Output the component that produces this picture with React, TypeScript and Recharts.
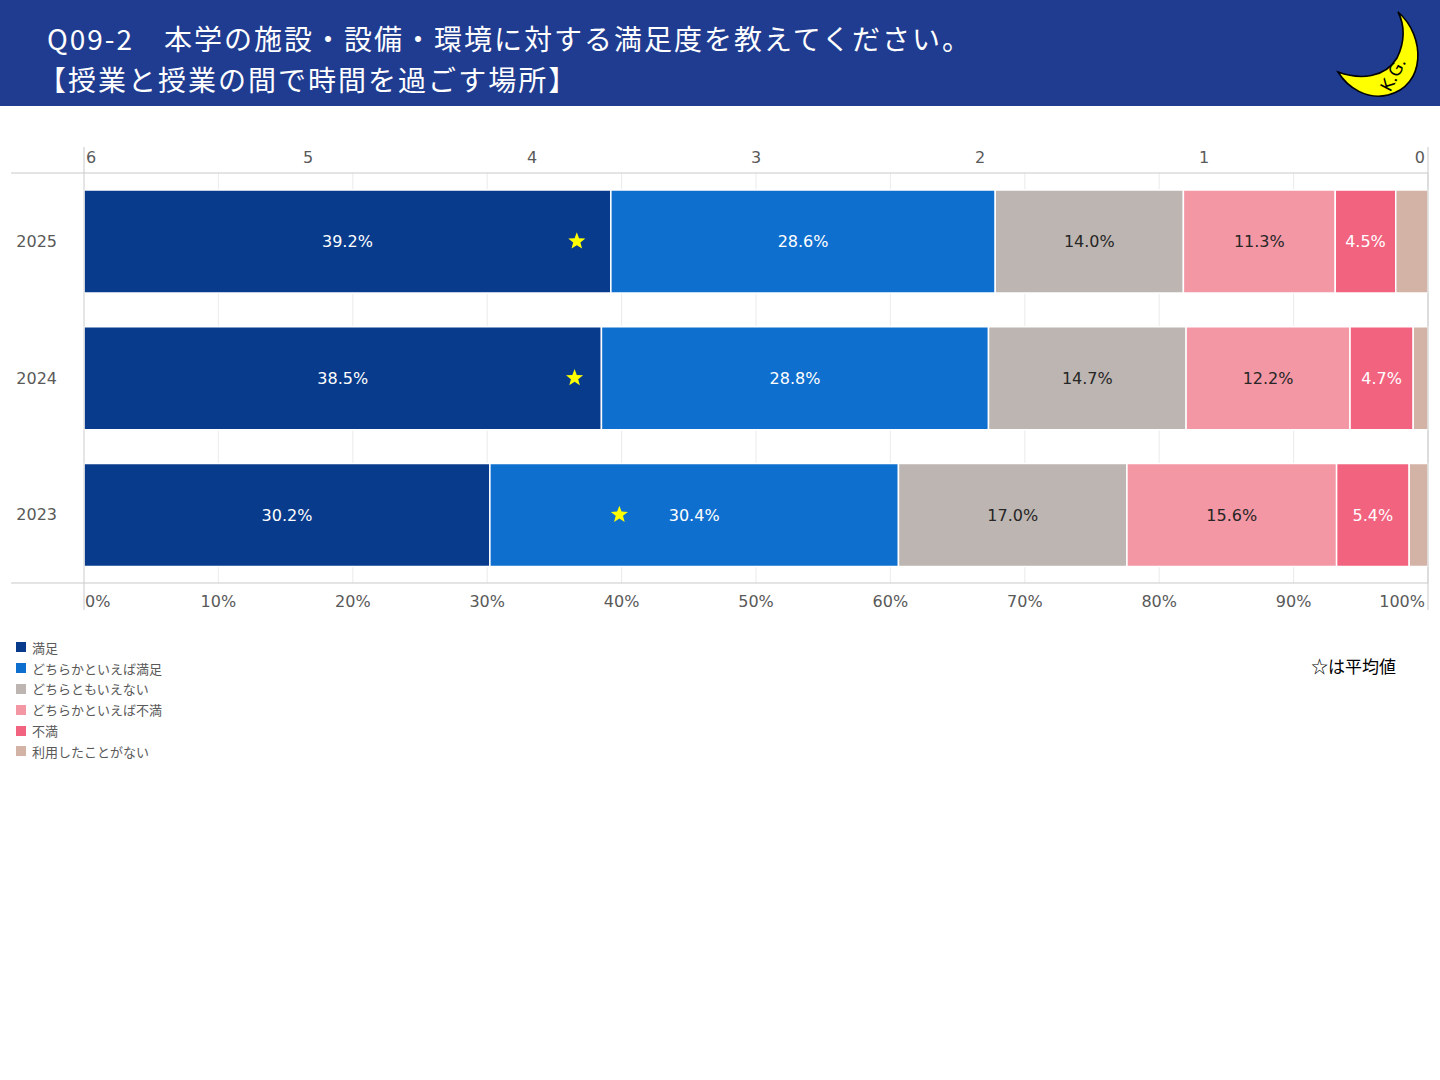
import React from 'react';
import { ComposedChart, Bar, XAxis, YAxis, CartesianGrid, LabelList, Scatter, ReferenceLine } from 'recharts';

const years = ['2025', '2024', '2023'];
const satisfied = [39.2, 38.5, 30.2];
const ratherSatisfied = [28.6, 28.8, 30.4];
const neutral = [14.0, 14.7, 17.0];
const ratherDissatisfied = [11.3, 12.2, 15.6];
const dissatisfied = [4.5, 4.7, 5.4];
const neverUsed = [2.4, 1.1, 1.4];
const averages = [3.8, 3.81, 3.61];

const pctTicks = [0, 10, 20, 30, 40, 50, 60, 70, 80, 90, 100];
const avgTicks = [0, 1, 2, 3, 4, 5, 6];

const seriesNames = ['満足', 'どちらかといえば満足', 'どちらともいえない', 'どちらかといえば不満', '不満', '利用したことがない'];
const seriesColors = ['#083b8c', '#0f6fce', '#bdb5b1', '#f397a5', '#f2637f', '#d4b3a7'];
const labelColors = ['#ffffff', '#ffffff', '#262626', '#262626', '#ffffff', null];
const seriesKeys = ['s0', 's1', 's2', 's3', 's4', 's5'];

const data = years.map((year, i) => ({
  year,
  s0: satisfied[i],
  s1: ratherSatisfied[i],
  s2: neutral[i],
  s3: ratherDissatisfied[i],
  s4: dissatisfied[i],
  s5: neverUsed[i],
  avg: averages[i],
}));

const AXIS_GRAY = '#c9c9c9';
const TEXT_GRAY = '#595959';
const NUM_FONT = '"DejaVu Sans", Verdana, sans-serif';
const JP_FONT = '"Noto Sans CJK JP", "Noto Sans", sans-serif';

const TopTick = (props: any) => {
  const { x, y, payload } = props;
  const v = payload.value;
  const lineY = y + 8;
  const anchor = v === 6 ? 'start' : v === 0 ? 'end' : 'middle';
  const dx = v === 6 ? 2 : v === 0 ? -3 : 0;
  return (
    <g>
      {(v === 6 || v === 0) && <line x1={x} x2={x} y1={lineY - 26} y2={lineY} stroke={AXIS_GRAY} />}
      {v === 6 && <line x1={x - 73} x2={x} y1={lineY} y2={lineY} stroke={AXIS_GRAY} />}
      <text x={x + dx} y={y - 2} textAnchor={anchor} fill={TEXT_GRAY} fontSize={16} fontFamily={NUM_FONT}>
        {v}
      </text>
    </g>
  );
};

const BottomTick = (props: any) => {
  const { x, y, payload } = props;
  const v = payload.value;
  const lineY = y - 8;
  const anchor = v === 0 ? 'start' : v === 100 ? 'end' : 'middle';
  const dx = v === 0 ? 1 : v === 100 ? -3 : 0;
  return (
    <g>
      {(v === 0 || v === 100) && <line x1={x} x2={x} y1={lineY} y2={lineY + 27} stroke={AXIS_GRAY} />}
      {v === 0 && <line x1={x - 73} x2={x} y1={lineY} y2={lineY} stroke={AXIS_GRAY} />}
      <text x={x + dx} y={y + 16} textAnchor={anchor} fill={TEXT_GRAY} fontSize={16} fontFamily={NUM_FONT}>
        {v}%
      </text>
    </g>
  );
};

const YTick = (props: any) => {
  const { x, y, payload } = props;
  return (
    <text x={x} y={y} dy="0.35em" textAnchor="end" fill={TEXT_GRAY} fontSize={16} fontFamily={NUM_FONT}>
      {payload.value}
    </text>
  );
};

const Star = (props: any) => {
  const { cx, cy } = props;
  if (cx == null || cy == null) return null;
  const outer = 9;
  const inner = 3.8;
  const pts: string[] = [];
  for (let k = 0; k < 10; k++) {
    const r = k % 2 === 0 ? outer : inner;
    const a = -Math.PI / 2 + (k * Math.PI) / 5;
    pts.push(`${cx + r * Math.cos(a)},${cy + r * Math.sin(a)}`);
  }
  return <polygon points={pts.join(' ')} fill="#ffff00" />;
};

const Moon = () => (
  <svg width={1440} height={106} style={{ position: 'absolute', left: 0, top: 0 }}>
    <path
      d="M1398,12 C1426,36 1426,86 1388,95 C1367,100 1348,88 1338,72 C1360,80 1385,78 1397,58 C1405,42 1405,25 1398,12 Z"
      fill="#ffff00"
      stroke="#000"
      strokeWidth={1.6}
    />
    <text
      x={1394}
      y={80}
      transform="rotate(-62 1394 75)"
      fontSize={17}
      fontFamily='"DejaVu Sans", sans-serif'
      fill="#000"
      textAnchor="middle"
    >
      K.G.
    </text>
  </svg>
);

const titleStyle: React.CSSProperties = {
  position: 'absolute',
  color: '#fff',
  fontSize: 28,
  letterSpacing: 2,
  fontFamily: JP_FONT,
  lineHeight: '41px',
  whiteSpace: 'nowrap',
};

export default function App() {
  return (
    <div style={{ position: 'absolute', left: 0, top: 0, width: 1440, height: 1080, background: '#fff', overflow: 'hidden' }}>
      <div style={{ position: 'absolute', left: 0, top: 0, width: 1440, height: 106, background: '#1f3c91' }}>
        <div style={{ ...titleStyle, left: 47, top: 18 }}>
          Q09-2　本学の施設・設備・環境に対する満足度を教えてください。
        </div>
        <div style={{ ...titleStyle, left: 38, top: 59 }}>
          【授業と授業の間で時間を過ごす場所】
        </div>
        <Moon />
      </div>

      <div style={{ position: 'absolute', left: 0, top: 120 }}>
        <ComposedChart
          layout="vertical"
          width={1440}
          height={520}
          data={data}
          margin={{ top: 13, right: 12, bottom: 27, left: 11 }}
          barCategoryGap="12.5%"
        >
          <CartesianGrid xAxisId="pct" horizontal={false} stroke="#ebebeb" />
          <XAxis
            xAxisId="pct"
            type="number"
            domain={[0, 100]}
            ticks={pctTicks}
            interval={0}
            orientation="bottom"
            height={30}
            tickSize={0}
            tickMargin={8}
            tickLine={false}
            axisLine={{ stroke: AXIS_GRAY }}
            tick={<BottomTick />}
          />
          <XAxis
            xAxisId="avg"
            type="number"
            dataKey="avg"
            domain={[0, 6]}
            ticks={avgTicks}
            interval={0}
            reversed
            orientation="top"
            height={40}
            tickSize={0}
            tickMargin={8}
            tickLine={false}
            axisLine={{ stroke: AXIS_GRAY }}
            tick={<TopTick />}
          />
          <YAxis
            type="category"
            dataKey="year"
            width={73}
            tickSize={0}
            tickMargin={27}
            tickLine={false}
            axisLine={{ stroke: '#d6d6d6' }}
            tick={<YTick />}
          />
          <ReferenceLine xAxisId="pct" x={100} stroke={AXIS_GRAY} />
          {seriesKeys.map((key, i) => (
            <Bar
              key={key}
              xAxisId="pct"
              dataKey={key}
              name={seriesNames[i]}
              stackId="a"
              fill={seriesColors[i]}
              stroke="#ffffff"
              strokeWidth={1.5}
              isAnimationActive={false}
            >
              {labelColors[i] && (
                <LabelList
                  dataKey={key}
                  position="center"
                  fill={labelColors[i] as string}
                  fontSize={16}
                  fontFamily={NUM_FONT}
                  formatter={(v: any) => `${Number(v).toFixed(1)}%`}
                />
              )}
            </Bar>
          ))}
          <Scatter xAxisId="avg" dataKey="avg" shape={<Star />} isAnimationActive={false} />
        </ComposedChart>
      </div>

      <div style={{ position: 'absolute', left: 16, top: 637, fontFamily: JP_FONT, fontSize: 13, color: TEXT_GRAY }}>
        {seriesNames.map((name, i) => (
          <div key={name} style={{ display: 'flex', alignItems: 'center', height: 20.8 }}>
            <span style={{ display: 'inline-block', width: 10, height: 10, background: seriesColors[i], marginRight: 6 }} />
            <span>{name}</span>
          </div>
        ))}
      </div>

      <div style={{ position: 'absolute', left: 1311, top: 653, fontFamily: JP_FONT, fontSize: 17, color: '#000' }}>
        ☆は平均値
      </div>
    </div>
  );
}
